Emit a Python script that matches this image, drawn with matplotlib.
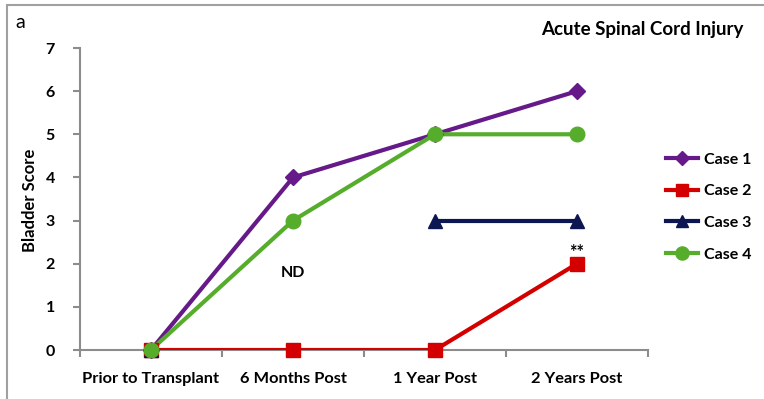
import matplotlib
matplotlib.use("Agg")
import matplotlib.pyplot as plt
import numpy as np
from matplotlib.patches import Rectangle

plt.rcParams['font.family'] = ['Lato', 'DejaVu Sans']

categories = ["Prior to Transplant", "6 Months Post", "1 Year Post", "2 Years Post"]
case1 = [0, 4, 5, 6]
case2 = [0, 0, 0, 2]
case3 = [0, np.nan, 3, 3]
case4 = [0, 3, 5, 5]
series_names = ["Case 1", "Case 2", "Case 3", "Case 4"]
series_values = [case1, case2, case3, case4]
colors = ["#661a8a", "#d40000", "#0b1652", "#56ad2c"]
markers = ["D", "s", "^", "o"]
msizes = [8, 9.5, 10, 10.5]

fig = plt.figure(figsize=(7.64, 3.99), dpi=100)
ax = fig.add_axes([80/764, 49/399, (648-80)/764, (350-48)/399])

x = np.arange(len(categories))
handles = []
for name, vals, c, m, ms in zip(series_names, series_values, colors, markers, msizes):
    ax.plot(x, vals, color=c, lw=3, solid_capstyle='butt', zorder=3)
    ax.plot(x, vals, color=c, lw=0, marker=m, markersize=ms, clip_on=False, zorder=4)
    h, = ax.plot([], [], color=c, lw=3, marker=m, markersize=ms * 0.9)
    handles.append(h)

ax.text(1, 1.78, "ND", ha='center', va='center', fontsize=11.5, fontweight='bold')
ax.text(3, 2.25, "**", ha='center', va='center', fontsize=13, fontweight='bold')

ax.set_xlim(-0.5, 3.5)
ax.set_ylim(0, 7)
ax.set_yticks(range(0, 8))
ax.set_xticks(x)
ax.set_xticklabels(categories, fontsize=11.8, fontweight='bold')
ax.set_xticks(np.arange(-0.5, 4, 1), minor=True)
ax.tick_params(axis='x', which='major', length=0, pad=16)
ax.tick_params(axis='x', which='minor', length=5, width=1.5, color='#8c8c8c', direction='out')
ax.tick_params(axis='y', length=5, width=1.5, color='#8c8c8c', direction='out', pad=13,
               labelsize=11.5)
for lbl in ax.get_yticklabels():
    lbl.set_fontweight('bold')
for side in ['top', 'right']:
    ax.spines[side].set_visible(False)
for side in ['left', 'bottom']:
    ax.spines[side].set_color('#8c8c8c')
    ax.spines[side].set_linewidth(1.5)
    ax.spines[side].set_zorder(2)

fig.text(30/764, 1 - 200/399, "Bladder Score", rotation=90, ha='center', va='center',
         fontsize=12, fontweight='bold')
fig.text(743/764, 1 - 30/399, "Acute Spinal Cord Injury", ha='right', va='center',
         fontsize=13.5, fontweight='bold')
fig.text(15/764, 1 - 22/399, "a", ha='left', va='center', fontsize=14)

fig.legend(handles, series_names, loc='upper left', bbox_to_anchor=(652/764, 1 - 138/399),
           frameon=False, prop={'weight': 'bold', 'size': 11.5}, handlelength=2.0,
           labelspacing=1.1, handletextpad=0.35)

fig.patches.append(Rectangle((7/764, -0.1), 1.2, 1 - 5/399 + 0.1, transform=fig.transFigure,
                             fill=False, edgecolor='#a0a0a0', lw=1.5))

fig.savefig("out.png", dpi=100)
